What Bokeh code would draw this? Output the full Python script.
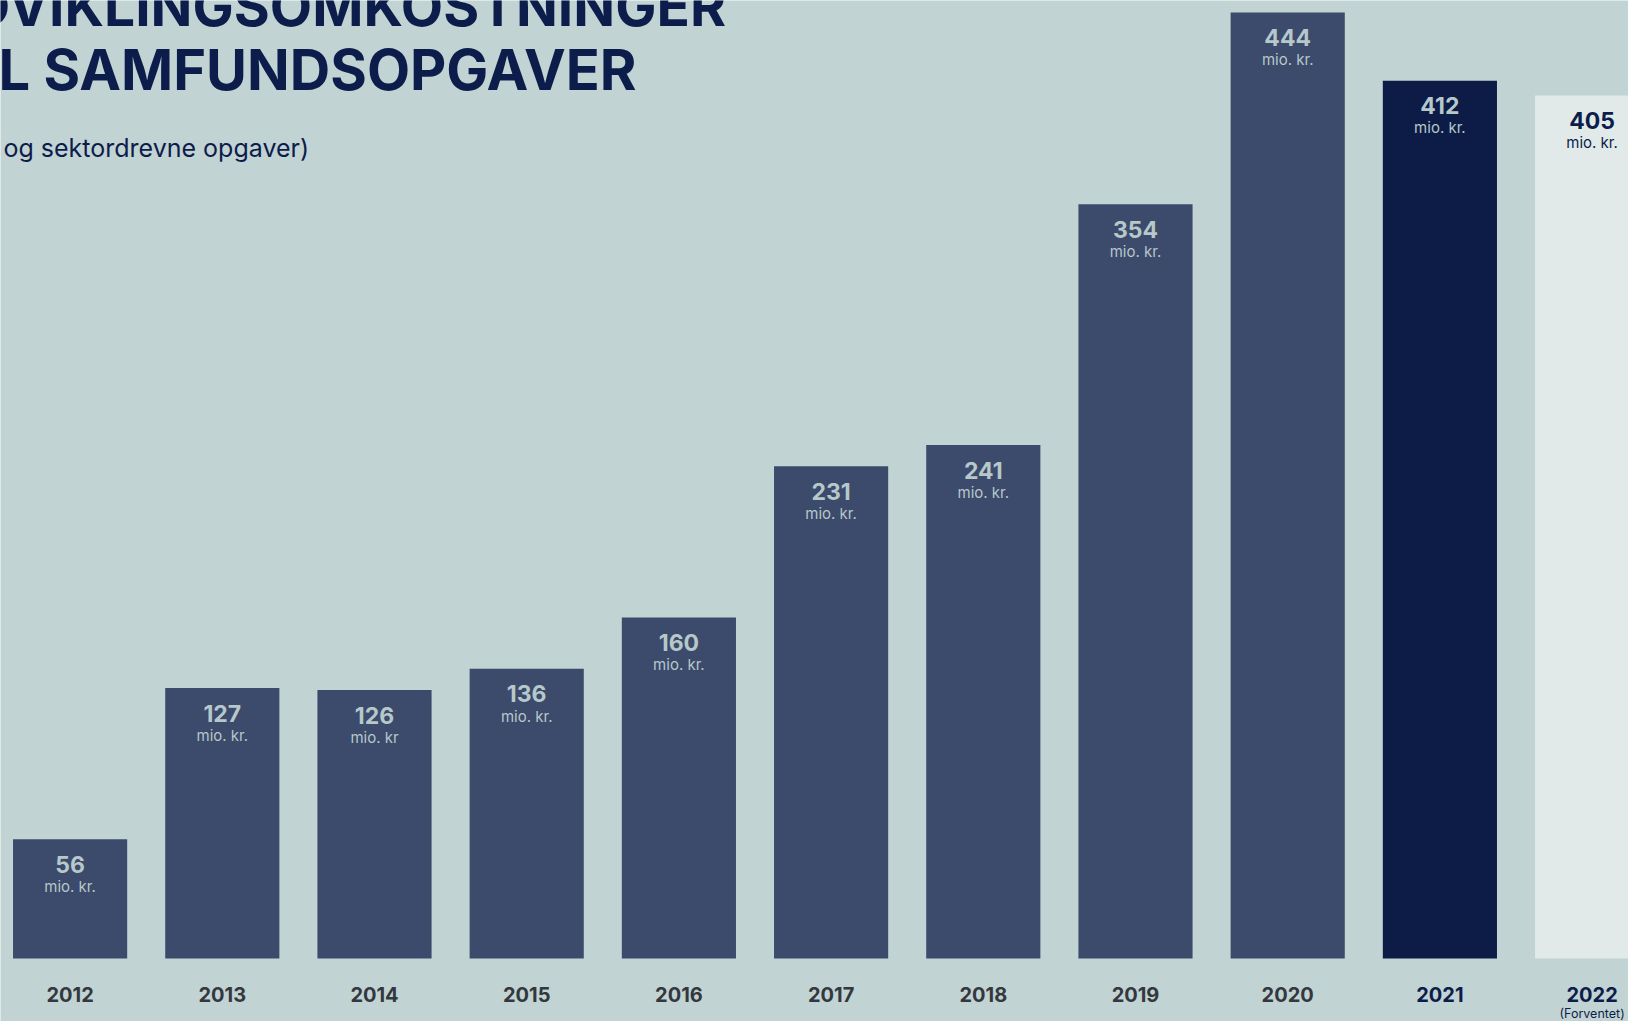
from bokeh.plotting import figure
from bokeh.models import ColumnDataSource, Label, Range1d
from bokeh.embed import file_html
from bokeh.resources import INLINE
from bokeh.core.properties import value

# ---- data ----
years = ["2012", "2013", "2014", "2015", "2016", "2017", "2018", "2019", "2020", "2021", "2022"]
values = [56, 127, 126, 136, 160, 231, 241, 354, 444, 412, 405]
units = ["mio. kr.", "mio. kr.", "mio. kr", "mio. kr.", "mio. kr.", "mio. kr.",
         "mio. kr.", "mio. kr.", "mio. kr.", "mio. kr.", "mio. kr."]
notes = ["", "", "", "", "", "", "", "", "", "", "(Forventet)"]
title_lines = ["DVIKLINGSOMKOSTNINGER", "L SAMFUNDSOPGAVER"]
subtitle = "og sektordrevne opgaver)"

# ---- styles ----
BG = "#C2D3D3"
BAR = "#3C4A6C"
BAR_2021 = "#0C1C47"
BAR_2022 = "#E1EAE9"
NAVY = "#0D1D4B"
LIGHT = "#B6C8C9"
GRAY = "#33383F"
FONT = "Inter"

bar_colors = [BAR] * 9 + [BAR_2021, BAR_2022]
label_colors = [LIGHT] * 10 + [NAVY]
year_colors = [GRAY] * 9 + [NAVY, NAVY]

W, H = 1628, 1021
BASE_Y = 958.0               # canvas px of value 0
PPU = (BASE_Y - 12) / 444.0  # px per unit
PITCH = 152.2
X0 = 69.6
K = 0.38                     # baseline correction (fraction of font size)

x_start = -X0 / PITCH
x_end = (W - X0) / PITCH
y_end = BASE_Y / PPU
y_start = -(H - BASE_Y) / PPU

FS_NUM, FS_UNIT, FS_YEAR, FS_NOTE = 23, 15, 20, 12.5


def below(px, fs):
    """data-unit distance for a baseline px below a reference, corrected."""
    return (px - K * fs) / PPU


idx = list(range(len(years)))
src = ColumnDataSource(dict(
    x=idx,
    top=values,
    color=bar_colors,
    num=[str(v) for v in values],
    num_y=[v - below(34, FS_NUM) for v in values],
    unit=units,
    unit_y=[v - below(53, FS_UNIT) for v in values],
    lc=label_colors,
    year=years,
    year_y=[-below(43.5, FS_YEAR)] * len(years),
    yc=year_colors,
    note=notes,
    note_y=[-below(59.5, FS_NOTE)] * len(years),
))

p = figure(width=W, height=H, output_backend="svg", toolbar_location=None,
           x_range=Range1d(x_start, x_end), y_range=Range1d(y_start, y_end),
           x_axis_type=None, y_axis_type=None, min_border=0)
p.min_border_left = p.min_border_right = p.min_border_top = p.min_border_bottom = 0
p.background_fill_color = BG
p.border_fill_color = BG
p.outline_line_color = None
p.grid.visible = False

p.vbar(x="x", top="top", bottom=0, width=0.75, source=src,
       fill_color="color", line_color=None)

p.text(x="x", y="num_y", text="num", source=src, text_color="lc",
       text_font=value(FONT), text_font_style="bold", text_font_size=f"{FS_NUM}px",
       text_align="center", text_baseline="alphabetic")
p.text(x="x", y="unit_y", text="unit", source=src, text_color="lc",
       text_font=value(FONT), text_font_size=f"{FS_UNIT}px",
       text_align="center", text_baseline="alphabetic")
p.text(x="x", y="year_y", text="year", source=src, text_color="yc",
       text_font=value(FONT), text_font_style="bold", text_font_size=f"{FS_YEAR}px",
       text_align="center", text_baseline="alphabetic")
p.text(x="x", y="note_y", text="note", source=src, text_color=NAVY,
       text_font=value(FONT), text_font_size=f"{FS_NOTE}px",
       text_align="center", text_baseline="alphabetic")

# titles (screen units measured from the bottom of the canvas)
FS_T1, FS_T, FS_S = 55, 56, 25
p.add_layout(Label(x=-30, y=H - (26 - K * FS_T1), x_units="screen", y_units="screen",
                   text=title_lines[0], text_color=NAVY, text_font=FONT,
                   text_font_style="bold", text_font_size=f"{FS_T1}px",
                   text_baseline="alphabetic"))
p.add_layout(Label(x=-2, y=H - (91 - K * FS_T), x_units="screen", y_units="screen",
                   text=title_lines[1], text_color=NAVY, text_font=FONT,
                   text_font_style="bold", text_font_size=f"{FS_T}px",
                   text_baseline="alphabetic"))
p.add_layout(Label(x=3, y=H - (157 - K * FS_S), x_units="screen", y_units="screen",
                   text=subtitle, text_color=NAVY, text_font=FONT,
                   text_font_size=f"{FS_S}px", text_baseline="alphabetic"))

open("out.html", "w").write(file_html(p, INLINE))
